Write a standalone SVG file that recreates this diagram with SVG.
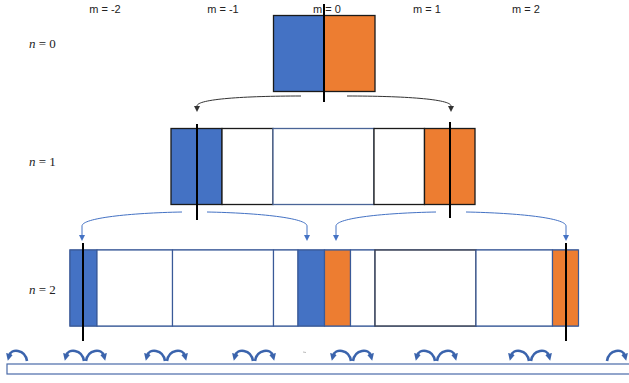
<svg xmlns="http://www.w3.org/2000/svg" width="629" height="383" viewBox="0 0 629 383">
  <style>
    .lbl { font-family: "Liberation Sans", Arial, sans-serif; font-size: 11px; fill: #222; }
    .math { font-family: "Liberation Serif", "Times New Roman", serif; font-size: 13px; fill: #222; }
    .blue { fill: #4472c4; }
    .orange { fill: #ed7d31; }
    .white { fill: #ffffff; }
    .edge0 { stroke: #1a1a1a; stroke-width: 1.3; }
    .edge1 { stroke: #4a6496; stroke-width: 1.3; }
    .edge2 { stroke: #3a5a98; stroke-width: 1.2; }
    .edgeDark { stroke: #3c4458; stroke-width: 1.5; }
    .axis { stroke: #000; stroke-width: 2; }
    .link0 { fill: none; stroke: #333; stroke-width: 1; }
    .link1 { fill: none; stroke: #4472c4; stroke-width: 1; }
    .hop { fill: none; stroke: #3b64ad; stroke-width: 2.6; }
  </style>
  <defs>
    <marker id="tipBlack" viewBox="0 0 10 10" refX="5" refY="5" markerWidth="6" markerHeight="6" markerUnits="userSpaceOnUse" orient="auto">
      <path d="M0,0 L10,5 L0,10 z" fill="#333"/>
    </marker>
    <marker id="tipBlue" viewBox="0 0 10 10" refX="5" refY="5" markerWidth="6" markerHeight="6" markerUnits="userSpaceOnUse" orient="auto">
      <path d="M0,0 L10,5 L0,10 z" fill="#4472c4"/>
    </marker>
    <marker id="tipHop" viewBox="0 0 10 10" refX="3" refY="5" markerWidth="7" markerHeight="7" markerUnits="userSpaceOnUse" orient="auto">
      <path d="M0,0 L10,5 L0,10 z" fill="#3b64ad"/>
    </marker>
    <!-- one hop arc to the left and one to the right, drawn from the origin -->
    <path id="hopL" class="hop" d="M-1,361 C-3,349 -17,348 -19,356" marker-end="url(#tipHop)"/>
    <path id="hopR" class="hop" d="M1,361 C3,349 17,348 19,356" marker-end="url(#tipHop)"/>
  </defs>

  <!-- column labels -->
  <g id="m-labels">
    <text class="lbl" x="105" y="13" text-anchor="middle">m = -2</text>
    <text class="lbl" x="223" y="13" text-anchor="middle">m = -1</text>
    <text class="lbl" x="327" y="13" text-anchor="middle">m = 0</text>
    <text class="lbl" x="427" y="13" text-anchor="middle">m = 1</text>
    <text class="lbl" x="526" y="13" text-anchor="middle">m = 2</text>
  </g>

  <!-- row labels -->
  <g id="n-labels">
    <text class="math" x="29" y="48"><tspan font-style="italic">n</tspan> = 0</text>
    <text class="math" x="29" y="166"><tspan font-style="italic">n</tspan> = 1</text>
    <text class="math" x="29" y="294"><tspan font-style="italic">n</tspan> = 2</text>
  </g>

  <!-- level n = 0 -->
  <g id="row0">
    <rect class="blue edge0" x="273.5" y="15.5" width="50.5" height="76"/>
    <rect class="orange edge0" x="324" y="15.5" width="51" height="76"/>
    <line class="axis" x1="324" y1="4" x2="324" y2="102"/>
  </g>

  <!-- level n = 1 -->
  <g id="row1">
    <rect class="blue edge0" x="171" y="128.5" width="51" height="76"/>
    <rect class="white edge0" x="222" y="128.5" width="51" height="76"/>
    <rect class="white edge1" x="273" y="128.5" width="101" height="76"/>
    <rect class="white edge0" x="374" y="128.5" width="50.5" height="76"/>
    <rect class="orange edge0" x="424.5" y="128.5" width="50.5" height="76"/>
    <line class="axis" x1="197" y1="124" x2="197" y2="220"/>
    <line class="axis" x1="450" y1="122" x2="450" y2="218"/>
  </g>

  <!-- level n = 2 -->
  <g id="row2">
    <rect class="white edge2" x="70" y="250" width="508" height="76"/>
    <rect class="blue edge2" x="70" y="250" width="27" height="76"/>
    <rect class="white edge2" x="97" y="250" width="75.5" height="76"/>
    <rect class="white edge2" x="172.5" y="250" width="101" height="76"/>
    <rect class="white edge2" x="273.5" y="250" width="24.5" height="76"/>
    <rect class="blue edge2" x="298" y="250" width="26.5" height="76"/>
    <rect class="orange edge2" x="324.5" y="250" width="26" height="76"/>
    <rect class="white edge2" x="350.5" y="250" width="24.5" height="76"/>
    <rect class="white edgeDark" x="375" y="250" width="101" height="76"/>
    <rect class="white edge2" x="476" y="250" width="76.5" height="76"/>
    <rect class="orange edge2" x="552.5" y="250" width="26" height="76"/>
    <line class="axis" x1="83" y1="243" x2="83" y2="341"/>
    <line class="axis" x1="566" y1="243" x2="566" y2="341"/>
  </g>

  <!-- branching connectors -->
  <g id="connectors">
    <path class="link0" d="M301,96 C245,96 197,99 197,106 L197,109" marker-end="url(#tipBlack)"/>
    <path class="link0" d="M347,96 C403,96 451,99 451,106 L451,109" marker-end="url(#tipBlack)"/>
    <path class="link1" d="M182,212 C130,213 82,218 82,226 L82,238" marker-end="url(#tipBlue)"/>
    <path class="link1" d="M207,212 C259,213 307,218 307,226 L307,238" marker-end="url(#tipBlue)"/>
    <path class="link1" d="M436,212 C384,213 336,218 336,226 L336,238" marker-end="url(#tipBlue)"/>
    <path class="link1" d="M466,212 C518,213 566,218 566,226 L566,238" marker-end="url(#tipBlue)"/>
  </g>

  <!-- lattice bar and hopping arrows -->
  <g id="lattice">
    <rect x="7" y="364" width="630" height="10" fill="#fff" stroke="#4a6aa8" stroke-width="1.2"/>
    <line x1="303" y1="352" x2="306" y2="352.5" stroke="#aaa" stroke-width="0.8"/>
    <use href="#hopL" x="28" y="0"/>
    <use href="#hopL" x="85"/><use href="#hopR" x="85"/>
    <use href="#hopL" x="166"/><use href="#hopR" x="166"/>
    <use href="#hopL" x="254"/><use href="#hopR" x="254"/>
    <use href="#hopL" x="352"/><use href="#hopR" x="352"/>
    <use href="#hopL" x="436"/><use href="#hopR" x="436"/>
    <use href="#hopL" x="530"/><use href="#hopR" x="530"/>
    <use href="#hopR" x="606"/>
  </g>
</svg>
